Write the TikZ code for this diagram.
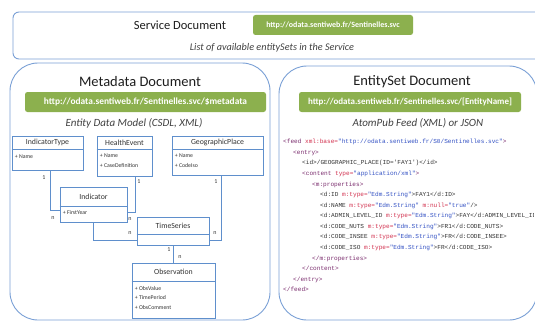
\documentclass[tikz,border=0pt]{standalone}
\usepackage{fontspec}
\setmainfont{Carlito}
\newfontfamily\xmlfont{Liberation Mono}
\usetikzlibrary{calc}
\definecolor{boxblue}{HTML}{7AA0D6}
\definecolor{umlblue}{HTML}{5F8FCC}
\definecolor{urlgreen}{HTML}{8CB04E}
\definecolor{xtag}{HTML}{7B2D6E}
\definecolor{xatt}{HTML}{D2304E}
\definecolor{xval}{HTML}{3452C4}
\definecolor{xtxt}{HTML}{333333}
\definecolor{titlegray}{HTML}{1E1E1E}
\definecolor{umltext}{HTML}{333333}
\newcommand\xt[1]{\textcolor{xtag}{#1}}
\newcommand\xa[1]{\textcolor{xatt}{#1}}
\newcommand\xv[1]{\textcolor{xval}{#1}}
\newcommand\xq{\char"27\relax}
\begin{document}
\begin{tikzpicture}[x=1pt,y=-1pt,
  docbox/.style={draw=boxblue, line width=0.9pt, fill=white, inner sep=0pt},
  urlbox/.style={fill=urlgreen, rounded corners=2.5pt, text=white, inner sep=0pt, minimum height=20pt},
  doctitle/.style={text=titlegray, inner sep=0pt},
  docsub/.style={text=titlegray!85, inner sep=0pt, font=\itshape\fontsize{11}{13}\selectfont},
  cls/.style={draw=umlblue, line width=0.7pt, fill=white, inner sep=0pt},
  clsline/.style={draw=umlblue, line width=0.7pt},
  clstitle/.style={text=umltext, inner sep=0pt, font=\fontsize{7.8}{9}\selectfont},
  clsattr/.style={text=umltext, inner sep=0pt, align=left, font=\fontsize{5.8}{9.5}\selectfont},
  conn/.style={draw=umlblue, line width=0.7pt},
  mult/.style={text=umltext, inner sep=0pt, font=\fontsize{6}{7}\selectfont},
  xml/.style={anchor=base west, inner sep=0pt, text=xtxt, font=\xmlfont\fontsize{6.1}{7}\selectfont}
]
\useasboundingbox (0,0) rectangle (535,321);
\clip (0,0) rectangle (535,321);
\fill[white] (0,0) rectangle (535,321);

% Service document
\node[docbox, rounded corners=6pt, minimum width=532pt, minimum height=47pt] (svc) at (279,35.5) {};
\node[doctitle, font=\fontsize{12.5}{14}\selectfont] (svct) at (180,25) {Service Document};
\node[urlbox, minimum width=160pt, font=\bfseries\fontsize{8}{9}\selectfont] (svcurl) at (333,25) {http://odata.sentiweb.fr/Sentinelles.svc};
\node[docsub, font=\itshape\fontsize{10.2}{12}\selectfont] (svcs) at (272,48) {List of available entitySets in the Service};

% Metadata document
\node[docbox, rounded corners=28pt, minimum width=260pt, minimum height=257pt] (meta) at (140,191.5) {};
\node[doctitle, font=\fontsize{14.5}{16}\selectfont] (metat) at (140,82) {Metadata Document};
\node[urlbox, minimum width=241pt, font=\bfseries\fontsize{9.4}{11}\selectfont] (metaurl) at (145.5,102) {http://odata.sentiweb.fr/Sentinelles.svc/\$metadata};
\node[docsub] (metas) at (134,123) {Entity Data Model (CSDL, XML)};

% EntitySet document
\node[docbox, rounded corners=28pt, minimum width=258pt, minimum height=254pt] (ent) at (408,193) {};
\node[doctitle, font=\fontsize{14.5}{16}\selectfont] (entt) at (412,82) {EntitySet Document};
\node[urlbox, minimum width=222pt, font=\bfseries\fontsize{9}{11}\selectfont] (enturl) at (410,102) {http://odata.sentiweb.fr/Sentinelles.svc/[EntityName]};
\node[docsub] (ents) at (418,123) {AtomPub Feed (XML) or JSON};

% UML classes
\node[cls, minimum width=71pt, minimum height=34pt] (IT) at (47.5,153) {};
\draw[clsline] ([yshift=-14pt]IT.north west) -- ([yshift=-14pt]IT.north east);
\node[clstitle] at ([yshift=-7pt]IT.north) {IndicatorType};
\node[clsattr, anchor=north west] at ([xshift=3pt,yshift=-19pt]IT.north west) {+ Name};

\node[cls, minimum width=55pt, minimum height=40pt] (HE) at (124.5,156) {};
\draw[clsline] ([yshift=-14pt]HE.north west) -- ([yshift=-14pt]HE.north east);
\node[clstitle] at ([yshift=-7pt]HE.north) {HealthEvent};
\node[clsattr, anchor=north west] at ([xshift=3pt,yshift=-18pt]HE.north west) {+ Name\\+ CaseDefinition};

\node[cls, minimum width=91pt, minimum height=39pt] (GP) at (217.5,155.5) {};
\draw[clsline] ([yshift=-14pt]GP.north west) -- ([yshift=-14pt]GP.north east);
\node[clstitle] at ([yshift=-7pt]GP.north) {GeographicPlace};
\node[clsattr, anchor=north west] at ([xshift=3pt,yshift=-18pt]GP.north west) {+ Name\\+ CodeIso};

\node[cls, minimum width=67pt, minimum height=35pt] (IND) at (93.5,204.5) {};
\draw[clsline] ([yshift=-20pt]IND.north west) -- ([yshift=-20pt]IND.north east);
\node[clstitle] at ([yshift=-10pt]IND.north) {Indicator};
\node[clsattr, anchor=north west] at ([xshift=3pt,yshift=-24pt]IND.north west) {+ FirstYear};

\node[cls, minimum width=72pt, minimum height=28pt] (TS) at (173,231) {};
\draw[clsline] ([yshift=-18pt]TS.north west) -- ([yshift=-18pt]TS.north east);
\node[clstitle] at ([yshift=-9pt]TS.north) {TimeSeries};

\node[cls, minimum width=83pt, minimum height=55pt] (OBS) at (173.5,290.5) {};
\draw[clsline] ([yshift=-19pt]OBS.north west) -- ([yshift=-19pt]OBS.north east);
\node[clstitle] at ([yshift=-9.5pt]OBS.north) {Observation};
\node[clsattr, anchor=north west] at ([xshift=3pt,yshift=-23.5pt]OBS.north west) {+ ObsValue\\+ TimePeriod\\+ ObsComment};

% Associations
\draw[conn] ([xshift=2.5pt]IT.south) |- ([yshift=-5.5pt]IND.west);
\draw[conn] ([xshift=10.5pt]HE.south) |- ([yshift=-7.5pt]IND.east);
\draw[conn] (IND.south) |- ([yshift=-9pt]TS.west);
\draw[conn] ([xshift=3.5pt]GP.south) |- ([yshift=-9pt]TS.east);
\draw[conn] (TS.south) -- (TS.south |- OBS.north);

\node[mult] at (44,178) {1};
\node[mult] at (53,218) {n};
\node[mult] at (139,182) {1};
\node[mult] at (130,219) {n};
\node[mult] at (130,233) {n};
\node[mult] at (216,182) {1};
\node[mult] at (215,233) {n};
\node[mult] at (169,250) {1};
\node[mult] at (180,257.5) {n};

% XML feed
\begin{scope}
\clip (279,66) rectangle (533.5,320);
\node[xml] (l1) at (283,143.8) {\xt{<feed} \xa{xml:base=}\xv{"http://odata.sentiweb.fr/S0/Sentinelles.svc"}\xt{>}};
\node[xml] (l2) at (293,154.4) {\xt{<entry>}};
\node[xml] (l3) at (302,164.9) {<id>/GEOGRAPHIC\_PLACE(ID=\xq FAY1\xq)</id>};
\node[xml] (l4) at (302,175.5) {\xt{<content} \xa{type=}\xv{"application/xml"}\xt{>}};
\node[xml] (l5) at (312,186.1) {\xt{<m:properties>}};
\node[xml] (l6) at (320,196.6) {<d:ID \xa{m:type=}\xv{"Edm.String"}>FAY1</d:ID>};
\node[xml] (l7) at (320,207.2) {<d:NAME \xa{m:type=}\xv{"Edm.String"} \xa{m:null=}\xv{"true"}/>};
\node[xml] (l8) at (320,217.8) {<d:ADMIN\_LEVEL\_ID \xa{m:type=}\xv{"Edm.String"}>FAY</d:ADMIN\_LEVEL\_ID>};
\node[xml] (l9) at (320,228.3) {<d:CODE\_NUTS \xa{m:type=}\xv{"Edm.String"}>FR1</d:CODE\_NUTS>};
\node[xml] (l10) at (320,238.9) {<d:CODE\_INSEE \xa{m:type=}\xv{"Edm.String"}>FR</d:CODE\_INSEE>};
\node[xml] (l11) at (320,249.5) {<d:CODE\_ISO \xa{m:type=}\xv{"Edm.String"}>FR</d:CODE\_ISO>};
\node[xml] (l12) at (312,260.0) {\xt{</m:properties>}};
\node[xml] (l13) at (302,270.6) {\xt{</content>}};
\node[xml] (l14) at (293,281.2) {\xt{</entry>}};
\node[xml] (l15) at (283,291.8) {\xt{</feed>}};
\end{scope}
\end{tikzpicture}
\end{document}
